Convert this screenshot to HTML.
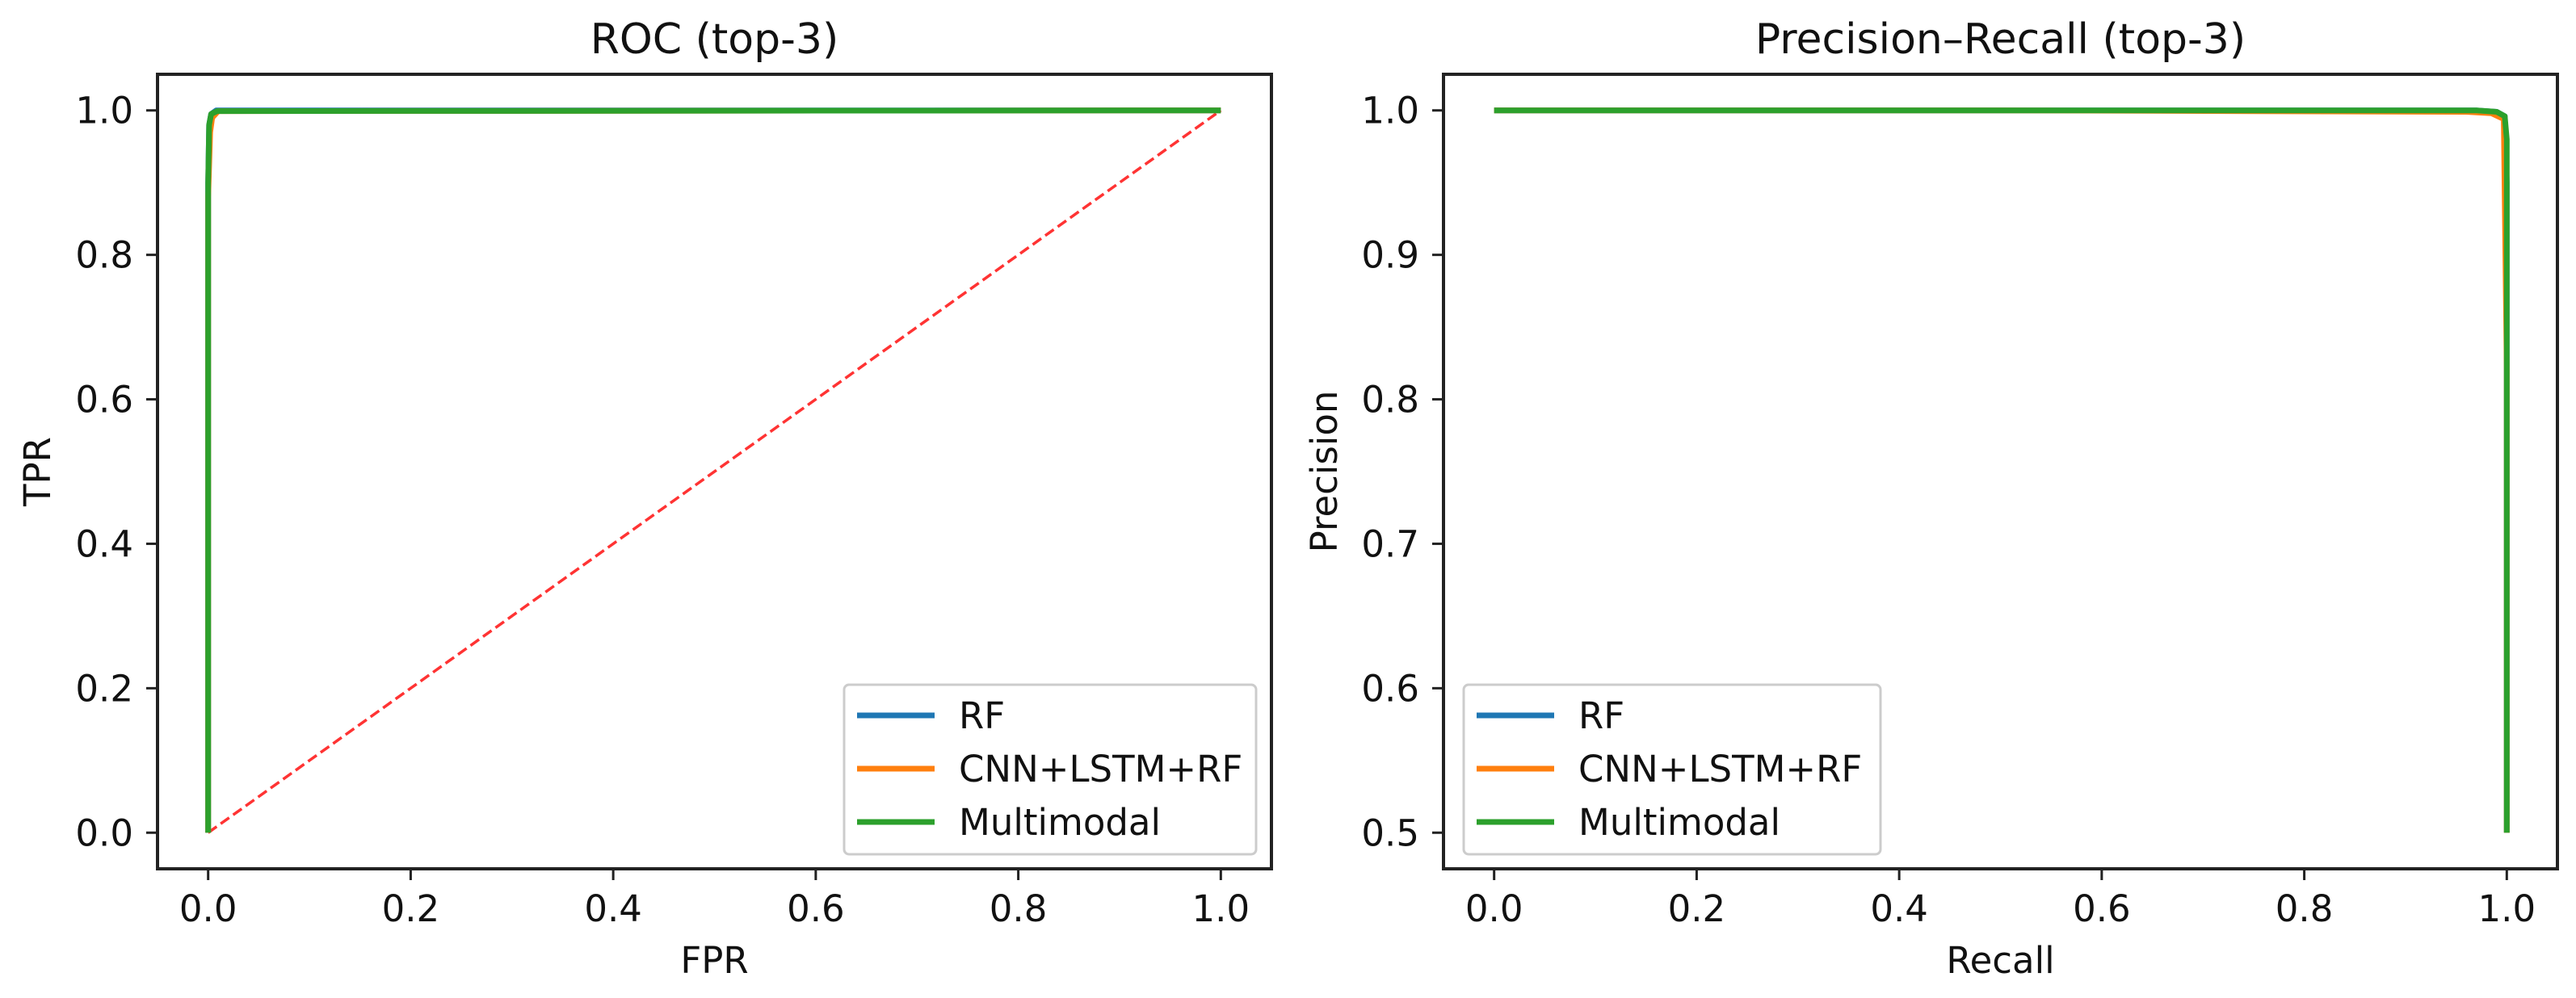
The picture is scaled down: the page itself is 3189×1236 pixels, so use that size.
<!DOCTYPE html>
<html><head><meta charset="utf-8"><style>
body{margin:0;background:#fff}
svg{display:block;font-family:"DejaVu Sans","Liberation Sans",sans-serif}
</style></head><body>
<svg id="chart" width="3189" height="1236" viewBox="0 0 3189 1236"></svg>
<script>
const series = ["RF","CNN+LSTM+RF","Multimodal"];
const colors = ["#1f77b4","#ff7f0e","#2ca02c"];
const rocFpr = [
  [0,0,0.001,0.003,0.008,1],
  [0,0,0.002,0.004,0.01,1],
  [0,0,0.001,0.003,0.009,1]
];
const rocTpr = [
  [0,0.9,0.98,0.995,1,1],
  [0,0.88,0.97,0.99,0.999,1],
  [0,0.9,0.98,0.995,0.999,1]
];
const prRecall = [
  [0,0.5,0.97,0.99,0.998,1,1],
  [0,0.5,0.96,0.985,0.997,1,1],
  [0,0.5,0.97,0.99,0.998,1,1]
];
const prPrecision = [
  [1,1,1,0.999,0.996,0.95,0.5],
  [1,1,0.999,0.998,0.994,0.82,0.5],
  [1,1,1,0.999,0.996,0.98,0.5]
];
const xTicks = [0,0.2,0.4,0.6,0.8,1.0];
const rocYTicks = [0,0.2,0.4,0.6,0.8,1.0];
const prYTicks = [0.5,0.6,0.7,0.8,0.9,1.0];

const NS="http://www.w3.org/2000/svg";
const svg=document.getElementById('chart');
function mk(tag,attrs,parent){const e=document.createElementNS(NS,tag);for(const k in attrs)e.setAttribute(k,attrs[k]);(parent||svg).appendChild(e);return e;}

function panel(o){
  const g=mk('g',{});
  
  
  const sx=v=>o.x0+(v-o.xmin)/(o.xmax-o.xmin)*(o.x1-o.x0);
  const sy=v=>o.y1-(v-o.ymin)/(o.ymax-o.ymin)*(o.y1-o.y0);
  xTicks.forEach(t=>{
    const x=sx(t);
    const l=mk('line',{x1:x,x2:x,y1:o.y1,y2:o.y1+14,stroke:'#222','stroke-width':3},g);
    
    
    const tx=mk('text',{x:x,y:1141,'font-size':45,'text-anchor':'middle',fill:'#111'},g);
    tx.textContent=t.toFixed(1);
    
    
  });
  o.yticks.forEach(t=>{
    const y=sy(t);
    const l=mk('line',{x1:o.x0-14,x2:o.x0,y1:y,y2:y,stroke:'#222','stroke-width':3},g);
    
    
    const tx=mk('text',{x:o.x0-30,y:y+16,'font-size':45,'text-anchor':'end',fill:'#111'},g);
    tx.textContent=t.toFixed(1);
    
    
  });
  if(o.diag){
    const d=mk('line',{x1:sx(0),y1:sy(0),x2:sx(1),y2:sy(1),stroke:'#ff0000','stroke-opacity':0.8,'stroke-width':3.5,'stroke-dasharray':'13,6'},g);
    
    
  }
  for(let s=0;s<series.length;s++){
    const pts=o.xs[s].map((v,i)=>sx(v).toFixed(1)+','+sy(o.ys[s][i]).toFixed(1)).join(' ');
    const p=mk('polyline',{points:pts,fill:'none',stroke:colors[s],'stroke-width':7,'stroke-linejoin':'round'},g);
    
    
  }
  const fr=mk('rect',{x:o.x0,y:o.y0,width:o.x1-o.x0,height:o.y1-o.y0,fill:'none',stroke:'#222','stroke-width':4},g);
  
  
  const ti=mk('text',{x:(o.x0+o.x1)/2,y:66,'font-size':52,'text-anchor':'middle',fill:'#111'},g);
  ti.textContent=o.title;
  
  
  const xl=mk('text',{x:(o.x0+o.x1)/2,y:1205,'font-size':45,'text-anchor':'middle',fill:'#111'},g);
  xl.textContent=o.xlabel;
  
  
  const yc=(o.y0+o.y1)/2;
  const yl=mk('text',{x:o.ylx,y:yc,'font-size':45,'text-anchor':'middle',fill:'#111',transform:'rotate(-90 '+o.ylx+' '+yc+')'},g);
  yl.textContent=o.ylabel;
  
  
  const lg=mk('g',{},g);
  
  
  mk('rect',{x:o.lx,y:848,width:o.lw,height:210,rx:6,fill:'#fff','fill-opacity':0.8,stroke:'#ccc','stroke-width':3},lg);
  series.forEach((n,i)=>{
    const y=886+i*66;
    const e=mk('g',{},lg);
    
    
    mk('line',{x1:o.lx+16,x2:o.lx+112,y1:y,y2:y,stroke:colors[i],'stroke-width':7},e);
    const t=mk('text',{x:o.lx+142,y:y+16,'font-size':45,fill:'#111'},e);
    t.textContent=n;
  });
}
panel({name:'roc-panel',x0:195,x1:1574,y0:92,y1:1076,xmin:-0.05,xmax:1.05,ymin:-0.05,ymax:1.05,
  yticks:rocYTicks,xs:rocFpr,ys:rocTpr,diag:true,title:'ROC (top-3)',xlabel:'FPR',ylabel:'TPR',ylx:62,lx:1045,lw:510});
panel({name:'pr-panel',x0:1787,x1:3166,y0:92,y1:1076,xmin:-0.05,xmax:1.05,ymin:0.475,ymax:1.025,
  yticks:prYTicks,xs:prRecall,ys:prPrecision,diag:false,title:'Precision–Recall (top-3)',xlabel:'Recall',ylabel:'Precision',ylx:1655,lx:1812,lw:516});
</script>
</body></html>
